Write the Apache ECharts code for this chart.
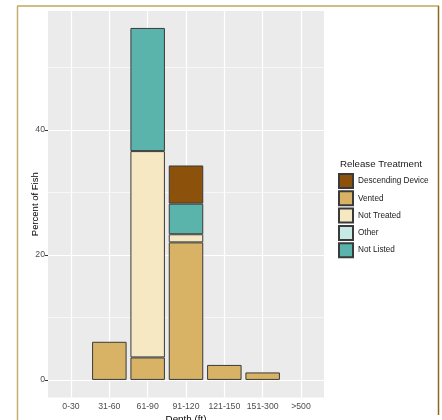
<!DOCTYPE html>
<html>
<head>
<meta charset="utf-8">
<script src="https://cdn.jsdelivr.net/npm/echarts@6/dist/echarts.min.js"></script>
<style>
html,body{margin:0;padding:0;background:#fff;}
#c{width:442px;height:420px;}
</style>
</head>
<body>
<div id="c"></div>
<script>
// ---- data ----
var categories = ['0-30', '31-60', '61-90', '91-120', '121-150', '151-300', '>500'];
var vented      = [null, 6.1, 3.6, 22.0, 2.4, 1.2, null];
var notTreated  = [null, null, 33.0, 1.3, null, null, null];
var other       = [null, null, null, null, null, null, null];
var notListed   = [null, null, 19.7, 4.9, null, null, null];
var descending  = [null, null, null, 6.1, null, null, null];
var yTicks = [0, 20, 40];
var yMinorLines = [10, 30, 50];
var legendOrder = ['Descending Device', 'Vented', 'Not Treated', 'Other', 'Not Listed'];

var colors = {
  'Descending Device': '#8C510A',
  'Vented': '#D8B365',
  'Not Treated': '#F6E8C3',
  'Other': '#C7EAE5',
  'Not Listed': '#5AB4AC'
};

var FONT = 'Liberation Sans, Arial, sans-serif';
var chart = echarts.init(document.getElementById('c'), null, {renderer: 'canvas'});

// panel geometry (ggplot-like)
var panelL = 48, panelT = 11, panelW = 276, panelH = 386.5;
var yLo = -2.81, yHi = 59.01;
var xLo = -0.6, xHi = 6.6;
var pxPerY = panelH / (yHi - yLo);
var zeroY = panelT + yHi * pxPerY;
var topTickY = zeroY - 40 * pxPerY;
var pxPerX = panelW / (xHi - xLo);
var dataL = panelL + (0 - 0.5 - xLo) * pxPerX;
var dataW = categories.length * pxPerX;

var gridLineData = [];
yTicks.forEach(function (v) { gridLineData.push({yAxis: v, lineStyle: {color: '#fff', width: 1.2, type: 'solid'}}); });
yMinorLines.forEach(function (v) { gridLineData.push({yAxis: v, lineStyle: {color: '#fff', width: 0.6, type: 'solid'}}); });
categories.forEach(function (c, i) { gridLineData.push({xAxis: i, lineStyle: {color: '#fff', width: 1.2, type: 'solid'}}); });

function barSeries(name, data) {
  return {
    name: name, type: 'bar', stack: 'all', data: data,
    xAxisIndex: 1, yAxisIndex: 1, barWidth: '90%', clip: false, z: 3,
    itemStyle: {color: colors[name], borderColor: '#3a3a3a', borderWidth: 1},
    emphasis: {disabled: true}, animation: false
  };
}

chart.setOption({
  animation: false,
  backgroundColor: '#fff',
  title: [{
    text: 'Release Treatment', left: 335, top: 154,
    textStyle: {fontFamily: FONT, fontSize: 9.7, fontWeight: 'normal', color: '#1a1a1a'}
  }],
  legend: {
    data: legendOrder, orient: 'vertical', left: 338, top: 173, padding: 0,
    itemWidth: 14, itemHeight: 14, itemGap: 1.3, icon: 'rect',
    textStyle: {fontFamily: FONT, fontSize: 8.2, color: '#1a1a1a'},
    selectedMode: false
  },
  grid: [
    {left: panelL, top: panelT, width: panelW, height: panelH, show: true, backgroundColor: '#EBEBEB', borderWidth: 0,
     containLabel: false, outerBoundsMode: 'none'},
    {left: dataL, top: topTickY, width: dataW, height: zeroY - topTickY, show: false,
     containLabel: false, outerBoundsMode: 'none'}
  ],
  xAxis: [
    {type: 'value', gridIndex: 0, min: xLo, max: xHi,
     axisLine: {show: false}, axisTick: {show: false}, axisLabel: {show: false}, splitLine: {show: false},
     name: 'Depth (ft)', nameLocation: 'middle', nameGap: 17,
     nameTextStyle: {fontFamily: FONT, fontSize: 9.8, color: '#000'}},
    {type: 'category', gridIndex: 1, data: categories, offset: panelT + panelH - zeroY,
     axisLine: {show: false},
     axisTick: {show: true, alignWithLabel: true, length: 3, lineStyle: {color: '#333', width: 1}},
     axisLabel: {fontFamily: FONT, fontSize: 8.7, color: '#4D4D4D', margin: 5, interval: 0},
     splitLine: {show: false}}
  ],
  yAxis: [
    {type: 'value', gridIndex: 0, min: yLo, max: yHi,
     axisLine: {show: false}, axisTick: {show: false}, axisLabel: {show: false}, splitLine: {show: false},
     name: 'Percent of Fish', nameLocation: 'middle', nameGap: 8, nameRotate: 90,
     nameTextStyle: {fontFamily: FONT, fontSize: 9.5, color: '#000'}},
    {type: 'value', gridIndex: 1, min: 0, max: 40, interval: 20, offset: dataL - panelL,
     axisLine: {show: false},
     axisTick: {show: true, length: 3, lineStyle: {color: '#333', width: 1}},
     axisLabel: {fontFamily: FONT, fontSize: 8.7, color: '#4D4D4D', margin: 3},
     splitLine: {show: false}}
  ],
  series: [
    {type: 'line', xAxisIndex: 0, yAxisIndex: 0, data: [], silent: true, z: 1,
     markLine: {silent: true, symbol: 'none', z: 1, animation: false, label: {show: false}, emphasis: {disabled: true}, data: gridLineData}},
    barSeries('Vented', vented),
    barSeries('Not Treated', notTreated),
    barSeries('Other', other),
    barSeries('Not Listed', notListed),
    barSeries('Descending Device', descending)
  ],
  graphic: [
    {type: 'line', shape: {x1: 17, y1: 6, x2: 439, y2: 6}, style: {stroke: '#BFA75C', lineWidth: 1.5}, silent: true},
    {type: 'line', shape: {x1: 17.5, y1: 6, x2: 17.5, y2: 420}, style: {stroke: '#C4AE6C', lineWidth: 1.5}, silent: true},
    {type: 'line', shape: {x1: 438.5, y1: 6, x2: 438.5, y2: 415}, style: {stroke: '#8B6A1E', lineWidth: 1.5}, silent: true}
  ]
});
</script>
</body>
</html>
